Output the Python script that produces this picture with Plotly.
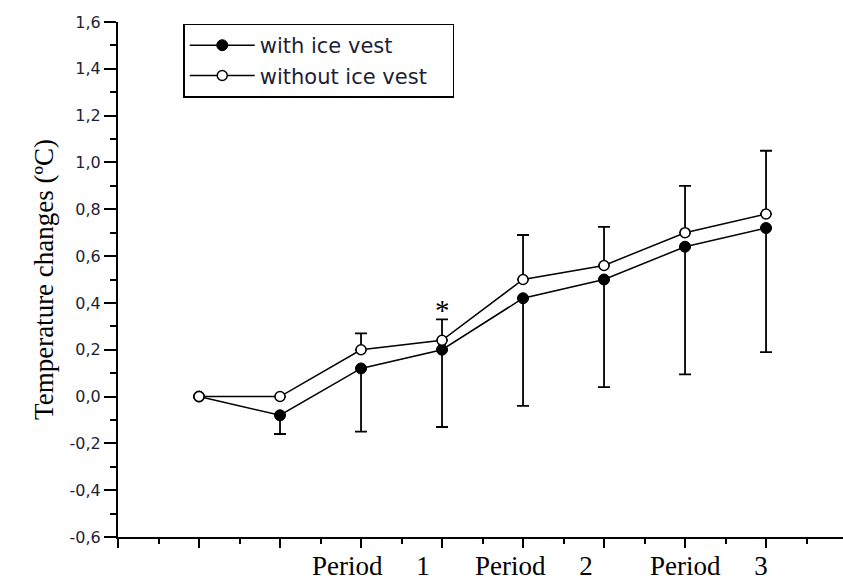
import plotly.graph_objects as go

# Measurement stages (x positions) and mean temperature changes (°C)
stages = [1, 2, 3, 4, 5, 6, 7, 8]
with_vest = [0.00, -0.08, 0.12, 0.20, 0.42, 0.50, 0.64, 0.72]
without_vest = [0.00, 0.00, 0.20, 0.24, 0.50, 0.56, 0.70, 0.78]

# One-sided SD bars: downward for "with ice vest", upward for "without"
with_vest_sd_down = [0.00, 0.08, 0.27, 0.33, 0.46, 0.46, 0.545, 0.53]
without_vest_sd_up = [0.00, 0.00, 0.07, 0.09, 0.19, 0.165, 0.20, 0.27]

# Y tick values and their labels (decimal comma)
y_ticks = [-0.6, -0.4, -0.2, 0.0, 0.2, 0.4, 0.6, 0.8, 1.0, 1.2, 1.4, 1.6]
y_tick_labels = ["-0,6", "-0,4", "-0,2", "0,0", "0,2", "0,4",
                 "0,6", "0,8", "1,0", "1,2", "1,4", "1,6"]

# Period captions below the x axis
period_labels = ["Period\u00a0\u00a0\u00a0\u00a0\u00a01",
                 "Period\u00a0\u00a0\u00a0\u00a0\u00a02",
                 "Period\u00a0\u00a0\u00a0\u00a0\u00a03"]
period_x = [3.12, 5.14, 7.30]

# Significance marker
star_x = [4]
star_y = [0.38]

SERIF = "Liberation Serif, Times New Roman, serif"
SANS = "DejaVu Sans, Arial, sans-serif"
INK = "#1e1e36"
PAD = "\u00a0\u00a0\u00a0"  # a little room at the right edge of the legend box

fig = go.Figure()

fig.add_trace(go.Scatter(
    x=stages, y=with_vest, name="with ice vest" + PAD,
    mode="lines+markers",
    line=dict(color="black", width=1.5),
    marker=dict(symbol="circle", size=11, color="black",
                line=dict(color="black", width=1)),
    error_y=dict(type="data", symmetric=False,
                 array=[0] * len(stages), arrayminus=with_vest_sd_down,
                 color="black", thickness=1.8, width=6),
))

fig.add_trace(go.Scatter(
    x=stages, y=without_vest, name="without ice vest" + PAD,
    mode="lines+markers",
    line=dict(color="black", width=1.5),
    marker=dict(symbol="circle", size=10, color="white",
                line=dict(color="black", width=1.5)),
    error_y=dict(type="data", symmetric=False,
                 array=without_vest_sd_up, arrayminus=[0] * len(stages),
                 color="black", thickness=1.8, width=6),
))

for lx, lt in zip(period_x, period_labels):
    fig.add_annotation(x=lx, xref="x", y=0, yref="paper",
                       text=lt, showarrow=False, yanchor="middle",
                       yshift=-29, font=dict(family=SERIF, size=27, color="black"))

for sx, sy in zip(star_x, star_y):
    fig.add_annotation(x=sx, y=sy, text="*", showarrow=False,
                       yanchor="middle", yshift=-2,
                       font=dict(family=SERIF, size=29, color="black"))

fig.update_layout(
    width=843, height=581,
    margin=dict(l=118, r=0, t=22, b=44),
    plot_bgcolor="white", paper_bgcolor="white",
    showlegend=True,
    legend=dict(
        x=0.09, y=0.997, xanchor="left", yanchor="top",
        bgcolor="white", bordercolor="black", borderwidth=1.5,
        font=dict(family=SANS, size=21, color=INK),
        itemwidth=65, tracegroupgap=0,
    ),
    xaxis=dict(
        range=[0, 8.95], showgrid=False, zeroline=False,
        showline=True, linecolor="black", linewidth=2,
        tickmode="linear", tick0=0, dtick=1,
        ticks="outside", ticklen=9, tickwidth=1.5, tickcolor="black",
        showticklabels=False,
        minor=dict(tick0=0, dtick=0.5, ticks="outside", ticklen=5,
                   tickwidth=1.5, tickcolor="black"),
    ),
    yaxis=dict(
        range=[-0.6, 1.6], showgrid=False, zeroline=False,
        showline=True, linecolor="black", linewidth=2,
        tickmode="array", tickvals=y_ticks, ticktext=y_tick_labels,
        ticks="outside", ticklen=12, tickwidth=1.5, tickcolor="black",
        tickfont=dict(family=SANS, size=16, color=INK),
        minor=dict(dtick=0.1, tick0=0, ticks="outside", ticklen=6,
                   tickwidth=1.5, tickcolor="black"),
        title=dict(text="Temperature changes (ºC)", standoff=8,
                   font=dict(family=SERIF, size=27, color="black")),
    ),
)

fig.write_html("out.html")
